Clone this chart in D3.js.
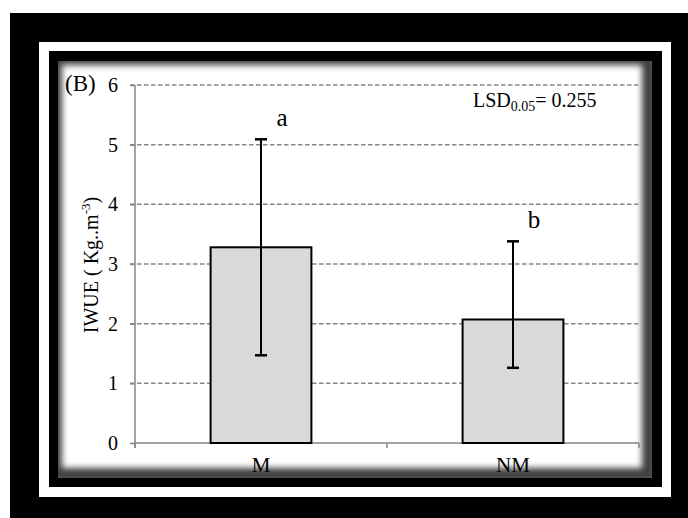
<!DOCTYPE html>
<html>
<head>
<meta charset="utf-8">
<script src="https://cdn.jsdelivr.net/npm/d3@7"></script>
<style>
  body { margin: 0; background: #fff; }
  text { font-family: "Liberation Serif", "Times New Roman", serif; }
</style>
</head>
<body>
<div class="chart"></div>
<script>
// Data
var categories = ["M", "NM"];
var means = [3.28, 2.07];
var errUp = [1.81, 1.31];
var errDown = [1.81, 0.81];
var letters = ["a", "b"];
var yTicks = [0, 1, 2, 3, 4, 5, 6];

// Size
var w = 688;
var h = 518;

var svg = d3.select(".chart")
    .append("svg")
    .attr("width", w)
    .attr("height", h);

var defs = svg.append("defs");
defs.append("clipPath").attr("id", "inner")
    .append("rect")
    .attr("x", 58).attr("y", 61)
    .attr("width", 594).attr("height", 417);
defs.append("filter").attr("id", "blur")
    .attr("x", "-10%").attr("y", "-10%")
    .attr("width", "120%").attr("height", "120%")
    .append("feGaussianBlur")
    .attr("stdDeviation", 3);

//Frames
svg.append("rect").attr("x", 10).attr("y", 13).attr("width", w - 10).attr("height", h - 13).attr("fill", "black");
svg.append("rect").attr("x", 39).attr("y", 42).attr("width", 632).attr("height", 455).attr("fill", "white");
svg.append("rect").attr("x", 49).attr("y", 51).attr("width", 613).attr("height", 436).attr("fill", "black");
svg.append("rect").attr("x", 58).attr("y", 61).attr("width", 594).attr("height", 417).attr("fill", "white");

//Inner shadow
svg.append("g")
    .attr("clip-path", "url(#inner)")
    .append("rect")
    .attr("x", 55).attr("y", 58)
    .attr("width", 594).attr("height", 417)
    .attr("fill", "none")
    .attr("stroke", "black")
    .attr("stroke-width", 14)
    .attr("opacity", 0.75)
    .attr("filter", "url(#blur)");

//Scales
var x = d3.scaleBand()
    .domain(categories)
    .range([135, 639])
    .paddingInner(0)
    .paddingOuter(0);

var y = d3.scaleLinear()
    .domain([0, 6])
    .range([443, 85]);

var barW = x.bandwidth() * 0.4;

//Gridlines
svg.append("g")
    .selectAll("line")
    .data(yTicks.filter(d => d > 0))
    .join("line")
    .attr("x1", 130)
    .attr("x2", 639)
    .attr("y1", d => y(d))
    .attr("y2", d => y(d))
    .attr("stroke", "#868686")
    .attr("stroke-width", 1.5)
    .attr("stroke-dasharray", "4.5,2.5");

//Y axis
var yAxis = svg.append("g")
    .attr("transform", "translate(135,0)")
    .call(d3.axisLeft(y).tickValues(yTicks).tickSize(5).tickPadding(12).tickFormat(d3.format("d")));
yAxis.select(".domain").remove();
yAxis.append("line")
    .attr("y1", y(6)).attr("y2", y(0) + 5)
    .attr("stroke", "#868686").attr("stroke-width", 1.5);
yAxis.selectAll(".tick line").attr("stroke", "#868686").attr("stroke-width", 1.5);
yAxis.selectAll(".tick text")
    .attr("fill", "black")
    .style("font-size", "20px")
    .style("font-family", "Liberation Serif");

//X axis
var xAxis = svg.append("g")
    .attr("transform", "translate(0," + y(0) + ")");
xAxis.append("line")
    .attr("x1", 135).attr("x2", 639)
    .attr("stroke", "#868686").attr("stroke-width", 1.5);
xAxis.selectAll(".xt")
    .data([135, x("NM"), 639])
    .join("line")
    .attr("class", "xt")
    .attr("x1", d => d).attr("x2", d => d)
    .attr("y1", 0).attr("y2", 5)
    .attr("stroke", "#868686").attr("stroke-width", 1.5);
xAxis.selectAll("text")
    .data(categories)
    .join("text")
    .attr("x", d => x(d) + x.bandwidth() / 2)
    .attr("y", 29)
    .attr("text-anchor", "middle")
    .style("font-size", "21px")
    .text(d => d);

//Bars
svg.append("g")
    .selectAll("rect")
    .data(categories)
    .join("rect")
    .attr("x", d => x(d) + (x.bandwidth() - barW) / 2)
    .attr("y", (d, i) => y(means[i]))
    .attr("width", barW)
    .attr("height", (d, i) => y(0) - y(means[i]))
    .attr("fill", "#d9d9d9")
    .attr("stroke", "black")
    .attr("stroke-width", 2);

//Error bars
var eb = svg.append("g")
    .attr("stroke", "black")
    .attr("stroke-width", 2);
eb.selectAll(".stem")
    .data(categories)
    .join("line")
    .attr("x1", d => x(d) + x.bandwidth() / 2)
    .attr("x2", d => x(d) + x.bandwidth() / 2)
    .attr("y1", (d, i) => y(means[i] + errUp[i]))
    .attr("y2", (d, i) => y(means[i] - errDown[i]));
eb.selectAll(".capTop")
    .data(categories)
    .join("line")
    .attr("x1", d => x(d) + x.bandwidth() / 2 - 6)
    .attr("x2", d => x(d) + x.bandwidth() / 2 + 6)
    .attr("y1", (d, i) => y(means[i] + errUp[i]))
    .attr("y2", (d, i) => y(means[i] + errUp[i]))
    .attr("stroke-width", 2.5);
eb.selectAll(".capBot")
    .data(categories)
    .join("line")
    .attr("x1", d => x(d) + x.bandwidth() / 2 - 6)
    .attr("x2", d => x(d) + x.bandwidth() / 2 + 6)
    .attr("y1", (d, i) => y(means[i] - errDown[i]))
    .attr("y2", (d, i) => y(means[i] - errDown[i]))
    .attr("stroke-width", 2.5);

//Letters
svg.append("g")
    .selectAll("text")
    .data(letters)
    .join("text")
    .attr("x", (d, i) => x(categories[i]) + x.bandwidth() / 2 + 21)
    .attr("y", (d, i) => y(means[i] + errUp[i]) - 13)
    .attr("text-anchor", "middle")
    .style("font-size", "25px")
    .text(d => d);

//Panel label
svg.append("text")
    .attr("x", 65).attr("y", 91)
    .style("font-size", "23px")
    .text("(B)");

//LSD
var lsd = svg.append("text")
    .attr("x", 473).attr("y", 107)
    .style("font-size", "20px");
lsd.append("tspan").text("LSD");
lsd.append("tspan").attr("dy", 4).style("font-size", "14px").text("0.05");
lsd.append("tspan").attr("dy", -4).text("= 0.255");

//Y title
var yt = svg.append("text")
    .attr("transform", "translate(98,265) rotate(-90)")
    .attr("text-anchor", "middle")
    .style("font-size", "20px");
yt.append("tspan").text("IWUE ( Kg..m");
yt.append("tspan").attr("dy", -8).style("font-size", "13px").text("-3");
yt.append("tspan").attr("dy", 8).text(")");
</script>
</body>
</html>
